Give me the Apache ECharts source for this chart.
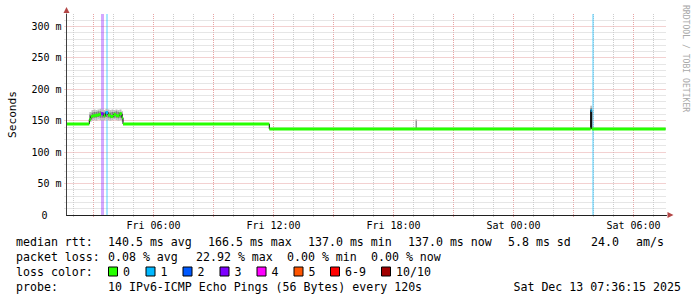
<!DOCTYPE html>
<html>
<head>
<meta charset="utf-8">
<script src="https://cdn.jsdelivr.net/npm/echarts@6.0.0/dist/echarts.min.js"></script>
<style>
html,body{margin:0;padding:0;background:#ffffff;}
#chart{width:697px;height:297px;}
</style>
</head>
<body>
<div id="chart"></div>
<script>
// ---------- time axis: hours since Fri 00:00 ----------
const xMin = 1.65;
const xMax = 31.65;
const dataEnd = 31.604;               // Sat 07:36:15
const xLabelValues = [6, 12, 18, 24, 30];
const xLabelTexts = ['Fri 06:00', 'Fri 12:00', 'Fri 18:00', 'Sat 00:00', 'Sat 06:00'];
const gridHours = [2,3,4,5,6,7,8,9,10,11,12,13,14,15,16,17,18,19,20,21,22,23,24,25,26,27,28,29,30,31];

// ---------- value axis (ms) ----------
const yMin = 0;
const yMax = 320;
const yInterval = 50;
const gridValues = [10,20,30,40,50,60,70,80,90,100,110,120,130,140,150,160,170,180,190,200,210,220,230,240,250,260,270,280,290,300,310];

// ---------- median rtt (step start times, ms, lost pings of 10) ----------
const medianTimes  = [1.65, 2.79, 2.87, 2.95, 3.10, 3.25, 3.375, 3.50, 3.60, 3.725, 3.85, 4.00, 4.12, 4.30, 4.42, 4.475, 11.79, 27.86, 27.91];
const medianValues = [145,  152,  157,  158,  159,  160,  161,   158,  163,  159,   157,  160,  158,  161,  155,  145,   137,   166.5, 137];
const medianLoss   = [0,    0,    0,    0,    0,    0,    3,     0,    1,    0,     0,    0,    0,    0,    0,    0,     0,     1,     0];

// ---------- smoke (ping spread) ----------
const smokeStart    = [2.79, 2.90, 3.00, 3.10, 3.20, 3.30, 3.40, 3.50, 3.60, 3.70, 3.80, 3.90, 4.00, 4.10, 4.20, 4.30, 4.40, 19.11, 27.84];
const smokeEnd      = [2.90, 3.00, 3.10, 3.20, 3.30, 3.40, 3.50, 3.60, 3.70, 3.80, 3.90, 4.00, 4.10, 4.20, 4.30, 4.40, 4.475, 19.16, 27.93];
const smokeLow      = [148,  150,  151,  150,  152,  151,  150,  151,  152,  151,  150,  151,  152,  151,  150,  151,  149,  137,   137];
const smokeHigh     = [164,  167,  168,  167,  168,  169,  168,  167,  169,  168,  167,  168,  167,  168,  167,  168,  165,  153,   174];
const smokeCoreLow  = [151,  154,  155,  155,  156,  155,  155,  155,  156,  155,  154,  155,  155,  155,  154,  155,  152,  138,   139];
const smokeCoreHigh = [160,  163,  164,  164,  165,  165,  164,  163,  165,  164,  163,  164,  164,  165,  164,  164,  161,  150,   170];

// ---------- packet loss bars ----------
const lossBarStart = [3.375, 3.60, 27.925];
const lossBarEnd   = [3.50, 3.725, 28.025];
const lossBarCount = [3, 1, 1];

// ---------- loss colour legend ----------
const lossColors = ['#26ff00', '#00b8ff', '#0059ff', '#7e00ff', '#ff00ff', '#ff5500', '#ff0000', '#a10000'];
const lossLabels = ['0', '1', '2', '3', '4', '5', '6-9', '10/10'];

// ---------- text lines ----------
const statsRow1 = [['median rtt:', 16], ['140.5 ms avg', 108], ['166.5 ms max', 208], ['137.0 ms min', 308], ['137.0 ms now', 408], ['5.8 ms sd', 508], ['24.0', 591], ['am/s', 636]];
const statsRow2 = [['packet loss:', 16], ['0.08 % avg', 108], ['22.92 % max', 196], ['0.00 % min', 287], ['0.00 % now', 371]];
const legendBoxX = [108, 145.5, 182.5, 219.5, 256.5, 293.5, 330, 381];
const probeRow = [['probe:', 16], ['10 IPv6-ICMP Echo Pings (56 Bytes) every 120s', 108]];
const dateText = 'Sat Dec 13 07:36:15 2025';
const rowY = [241.5, 256.5, 271.5, 286.5];

const FONT = 'DejaVu Sans Mono';
const LFS = 11.6;

function lossIndex(n) { return n >= 10 ? 7 : (n >= 6 ? 6 : n); }

// black step line (connectors)
const medianStep = medianTimes.map((t, i) => [t, medianValues[i]]);
medianStep.push([dataEnd, medianValues[medianValues.length - 1]]);

// horizontal coloured segments by loss colour
const segSeries = {};
medianTimes.forEach((t, i) => {
  const end = i + 1 < medianTimes.length ? medianTimes[i + 1] : dataEnd;
  const ci = lossIndex(medianLoss[i]);
  if (!segSeries[ci]) segSeries[ci] = [];
  segSeries[ci].push([t, medianValues[i]], [end, medianValues[i]], [end, '-']);
});

const series = [];

// grid lines (vertical)
series.push({
  type: 'custom', z: 1, silent: true, animation: false,
  data: gridHours.map(h => [h, 0]),
  renderItem: function (params, api) {
    const cs = params.coordSys;
    const p = api.coord([api.value(0), 0]);
    const x = Math.round(p[0] - 0.5) + 0.5;
    const major = api.value(0) % 3 === 0;
    return { type: 'line', shape: { x1: x, y1: cs.y, x2: x, y2: cs.y + cs.height + 2 },
      style: { stroke: major ? '#e6a3a3' : '#cccccc', lineWidth: 1, lineDash: [1, 1] } };
  }
});
// grid lines (horizontal)
series.push({
  type: 'custom', z: 1, silent: true, animation: false,
  data: gridValues.map(v => [xMin, v]),
  renderItem: function (params, api) {
    const cs = params.coordSys;
    const p = api.coord([xMin, api.value(1)]);
    const y = Math.round(p[1] - 0.5) + 0.5;
    const major = api.value(1) % 50 === 0;
    return { type: 'line', shape: { x1: cs.x - 2, y1: y, x2: cs.x + cs.width, y2: y },
      style: { stroke: major ? '#e6a3a3' : '#cccccc', lineWidth: 1, lineDash: [1, 1] } };
  }
});
// loss bars
series.push({
  type: 'custom', z: 2, silent: true, animation: false,
  data: lossBarStart.map((s, i) => [s, lossBarEnd[i], lossBarCount[i]]),
  encode: { x: [0, 1] },
  renderItem: function (params, api) {
    const cs = params.coordSys;
    const a = api.coord([api.value(0), 0]);
    const b = api.coord([api.value(1), 0]);
    return { type: 'rect', shape: { x: Math.round(a[0]), y: cs.y, width: Math.max(1, Math.round(b[0]) - Math.round(a[0])), height: cs.height },
      style: { fill: lossColors[lossIndex(api.value(2))], opacity: 0.34 } };
  }
});
// smoke
series.push({
  type: 'custom', z: 3, silent: true, animation: false,
  data: smokeStart.map((s, i) => [s, smokeEnd[i], smokeLow[i], smokeHigh[i], smokeCoreLow[i], smokeCoreHigh[i]]),
  encode: { x: [0, 1], y: [2, 3, 4, 5] },
  renderItem: function (params, api) {
    const a = api.coord([api.value(0), api.value(2)]);
    const b = api.coord([api.value(1), api.value(3)]);
    const c = api.coord([api.value(0), api.value(4)]);
    const d = api.coord([api.value(1), api.value(5)]);
    return { type: 'group', children: [
      { type: 'rect', shape: { x: a[0], y: b[1], width: b[0] - a[0], height: a[1] - b[1] }, style: { fill: '#bdbdbd' } },
      { type: 'rect', shape: { x: c[0], y: d[1], width: d[0] - c[0], height: c[1] - d[1] }, style: { fill: '#7c7c7c' } }
    ] };
  }
});
// black median connectors
series.push({
  type: 'line', z: 4, step: 'end', symbol: 'none', silent: true, animation: false,
  data: medianStep, lineStyle: { color: '#000000', width: 1 }
});
// coloured median
Object.keys(segSeries).forEach(ci => {
  series.push({
    type: 'line', z: 5, symbol: 'none', silent: true, animation: false, connectNulls: false,
    data: segSeries[ci], lineStyle: { color: lossColors[ci], width: 3, cap: 'butt' }
  });
});
// axis arrows
series.push({
  type: 'scatter', z: 12, silent: true, animation: false, clip: false,
  data: [
    { value: [xMax, 0], symbolRotate: -90, symbolOffset: [4, 0] },
    { value: [xMin, yMax], symbolRotate: 0, symbolOffset: [0, -4] }
  ],
  symbol: 'triangle', symbolSize: [6, 6],
  itemStyle: { color: '#a01818' }
});

// graphic texts
const graphics = [];
function addText(txt, x, y, align) {
  graphics.push({ type: 'text', x: x, y: y, silent: true,
    style: { text: txt, font: LFS + 'px "' + FONT + '"', fill: '#000000', align: align || 'left', verticalAlign: 'middle' } });
}
statsRow1.forEach(r => addText(r[0], r[1], rowY[0]));
statsRow2.forEach(r => addText(r[0], r[1], rowY[1]));
addText('loss color:', 16, rowY[2]);
lossLabels.forEach((lab, i) => {
  graphics.push({ type: 'rect', silent: true, shape: { x: legendBoxX[i] + 0.5, y: rowY[2] - 4.5, width: 9, height: 9 },
    style: { fill: lossColors[i], stroke: '#000000', lineWidth: 1 } });
  addText(lab, legendBoxX[i] + 15, rowY[2]);
});
probeRow.forEach(r => addText(r[0], r[1], rowY[3]));
addText(dateText, 681, rowY[3], 'right');
graphics.push({ type: 'text', x: 686, y: 5, rotation: -Math.PI / 2, silent: true,
  style: { text: 'RRDTOOL / TOBI OETIKER', font: '8.1px "' + FONT + '"', fill: '#a8a8a8', align: 'left', verticalAlign: 'middle' } });

const chart = echarts.init(document.getElementById('chart'), null, { renderer: 'svg' });
chart.setOption({
  backgroundColor: '#ffffff',
  animation: false,
  grid: { left: 66.5, top: 14, width: 600, height: 201, containLabel: false, outerBoundsMode: 'none' },
  xAxis: {
    type: 'value', min: xMin, max: xMax, z: 10,
    axisLine: { show: true, lineStyle: { color: '#202020', width: 1 } },
    axisTick: { show: false },
    splitLine: { show: false },
    axisLabel: {
      customValues: xLabelValues,
      margin: 5, fontFamily: FONT, fontSize: 10, color: '#000000',
      formatter: function (v) {
        for (let i = 0; i < xLabelValues.length; i++) if (Math.abs(xLabelValues[i] - v) < 1e-6) return xLabelTexts[i];
        return '';
      }
    }
  },
  yAxis: {
    type: 'value', min: yMin, max: yMax, interval: yInterval, z: 10,
    name: 'Seconds', nameLocation: 'middle', nameGap: 49, nameRotate: 90,
    nameTextStyle: { fontFamily: FONT, fontSize: 11.2, color: '#000000' },
    axisLine: { show: true, lineStyle: { color: '#404040', width: 1 } },
    axisTick: { show: false },
    splitLine: { show: false },
    axisLabel: {
      showMaxLabel: false, margin: 5, fontFamily: FONT, fontSize: 10, color: '#000000',
      formatter: function (v) { return v === 0 ? '{z|0}' : v + ' m'; },
      rich: { z: { fontFamily: FONT, fontSize: 10, color: '#000000', padding: [0, 14, 0, 0] } }
    }
  },
  series: series,
  graphic: graphics
});
</script>
</body>
</html>
